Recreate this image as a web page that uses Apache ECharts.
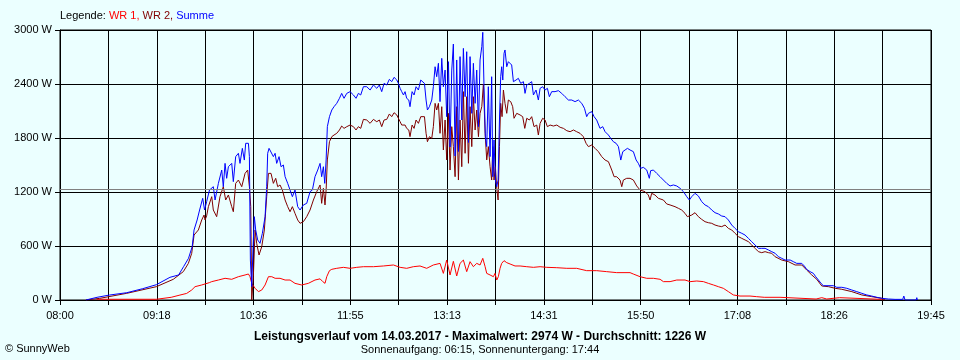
<!DOCTYPE html>
<html><head><meta charset="utf-8">
<script src="https://cdn.jsdelivr.net/npm/echarts@6/dist/echarts.min.js"></script>
<style>html,body{margin:0;padding:0;background:#EBFFFF;}#c{width:960px;height:360px;}</style>
</head><body><div id="c"></div>
<script>
// time values: minutes after 08:00
const xLabels = ['08:00','09:18','10:36','11:55','13:13','14:31','15:50','17:08','18:26','19:45'];
const average = 1226;

const summe = [
[21,0],[30,30],[40,55],[54,81],[67,126],[78,170],[89,252],[96,278],[100,370],[104,463],[107,593],[108.5,778],[111,889],[113,1000],[115.5,1130],[117,1000],[118.7,1093],[121,1222],
[124.1,1259],[125.5,1111],[128.2,1296],[130.9,1444],[132.2,1259],[133.6,1518],[134.9,1352],[136.3,1481],[139,1518],[140.3,1315],[142.2,1593],[144.4,1630],[145.7,1518],[147.6,1685],[149.2,1555],[150.3,1741],[152.5,1741],[153.3,1593],[154.1,444],[155.2,150],[156.3,600],[157.3,926],[158.4,778],[160,667],[161.9,630],[163.8,741],[166,926],[167.3,1259],[168.1,1630],[169.2,1685],[170.8,1667],[172.7,1593],[174.1,1630],[175.4,1518],[177.3,1593],[178.9,1481],[180.8,1500],[182.2,1370],[184.3,1296],[186.2,1222],[188.1,1148],[190.2,1222],[192.4,1037],[194.3,1000],[197,1056],[199.7,1074],[202.4,1204],[204.3,1222],[206.4,1370],[208.6,1444],[210.5,1518],
[211.8,1370],[213.2,1481],[214.3,1296],[215.4,1555],[216.4,1926],[218.1,2037],[220,2111],[221.8,2148],[224,2185],[226.2,2241],[228,2296],[229.9,2241],[232.1,2296],[234.8,2315],[237.5,2278],[239.6,2241],[241.5,2296],[243.4,2278],[245.6,2370],[248.3,2370],[251,2333],[253.7,2389],[256.4,2352],[258.5,2389],[260.4,2315],[262.3,2407],[264.5,2389],[266.6,2452],[268.5,2426],[270.4,2474],[272.6,2444],[273.9,2407],[275.3,2352],[276.6,2315],[278,2278],[279.3,2315],[280.6,2241],[282.3,2222],[283.3,2148],[285,2315],[286.6,2278],[288.2,2370],[290.1,2333],[292,2444],[293.6,2463],[295,2407],[296.3,2222],[297.4,2111],[299,2148],[300.9,2222],[302.2,2370],[303.6,2592],[304.9,2481],[306.3,2630],[307.6,2204],[309,2685],[310.3,2370],[311.7,2555],[313,2037],[314.4,2648],[315.7,1700],[317.1,2555],[318.4,2844],[319.8,1600],[321.1,2667],[322.5,1650],[323.8,2704],[325.2,2000],[326.5,2796],[327.9,2259],[329.2,2759],[330.6,1750],[331.9,2704],[333.3,2074],[334.6,2630],[336,2185],[337.3,2555],[338.7,1926],[340,2667],[341.4,2815],[342.2,2974],[343.2,2370],[344.3,1815],[345.4,1704],[346.7,2370],[348.1,1593],
[349.4,2481],[350.3,1370],[351.3,1778],[352.4,1333],[353.5,1259],[354.6,1333],[355.7,2000],[356.7,2481],[357.5,2592],[358.4,2444],[359.4,2741],[360.2,2778],[361.6,2592],[362.9,2648],[364.3,2630],[365.6,2611],[367,2426],[369.1,2444],[371,2463],[372.9,2407],[375.1,2426],[376.4,2296],[377.8,2389],[379.9,2407],[381.8,2426],[383.2,2278],[385.3,2333],[387.2,2222],[388.6,2352],[390.7,2370],[392.6,2333],[394.5,2352],[396.1,2259],[398,2315],[400.7,2315],[403.4,2326],[406.1,2296],[408.8,2259],[411.5,2222],[414.2,2222],[416.9,2204],[419.6,2222],[422.3,2185],[424.5,2130],[426.3,2037],[427.7,2074],[430.4,2093],[432.3,2037],[434.4,2000],[437.1,1907],[439.3,1926],[441.2,1870],[443.9,1833],[445.8,1796],[447.9,1759],[450.1,1741],[452,1704],[453.9,1555],[455.5,1648],[457.4,1667],[459.3,1685],[461.4,1667],
[464.1,1648],[466.3,1556],[468.1,1519],[470,1463],[472.2,1474],[474.9,1444],[477,1352],[478.1,1437],[480.3,1444],[483,1407],[485.7,1370],[488.4,1333],[491.1,1296],[493.8,1267],[496.5,1278],[499.2,1267],[501.9,1241],[504.6,1204],[507.3,1148],[509.4,1111],[511.3,1148],[514,1185],[516.7,1156],[519.4,1093],[522.1,1056],[524.8,1037],[527.5,1000],[530.2,970],[532.9,956],[535.6,933],[538.3,926],[541,889],[543.7,833],[546.4,796],[549.1,759],[551.8,741],[554.5,722],[557.2,685],[559.9,648],[562.6,611],[565.3,574],[568,574],[570.7,574],[573.4,556],[576.1,537],[578.8,519],
[581.5,481],[584.2,463],[586.9,444],[591,444],[593.6,426],[596.3,407],[600.4,407],[602.5,377],[604.4,340],[607.1,315],[609.8,296],[611.7,259],[613.9,222],[616,185],[617.9,159],[626,159],[628.7,141],[632.8,141],[636.8,130],[640.9,111],[644.9,93],[649,74],[653,56],[657,44],[661.1,30],[665.1,19],[670.5,11],[675.9,7],[682.1,7],[683,44],[684,0],[693,0],[693.5,26],[694,0]
];

const wr2 = [
[21,0],[32,18],[54,74],[78,148],[91.7,230],[99.8,315],[103.9,407],[106.6,518],[108.5,722],[112,778],[114.7,889],[116.6,944],[117.4,889],[118.7,935],[120.1,1037],[122.8,1148],[124.1,1000],[126.8,926],[129.5,1148],[132.2,1259],[134.1,1111],[136.3,1167],[139,1037],[140.3,981],[142.2,1296],[144.4,1333],[147.1,1259],[149.8,1407],[151.9,1444],[153.3,1259],[154.4,1037],[155.2,0],[156.5,259],[157.9,778],[159.2,630],[161.1,500],[163.3,593],[165.4,778],[167.3,1148],[168.7,1407],[170.8,1407],[172.7,1296],[174.6,1352],[176.2,1259],[178.1,1278],[180,1222],[182.2,1111],[184.3,1037],[186.2,981],[188.1,1037],[190.2,963],[192.4,889],[194.3,852],[197,870],[199.7,926],[202.4,1000],[205.1,1111],[207.8,1204],[210.5,1278],
[211.8,1074],[213.2,1241],[214.5,1056],[215.4,1222],[216.4,1556],[218.1,1759],[220,1815],[221.8,1833],[224,1852],[226.2,1889],[228,1933],[229.9,1907],[232.1,1926],[234.8,1944],[237.5,1926],[239.6,1889],[241.5,1926],[243.4,1907],[245.6,2007],[248.3,2000],[251,1963],[253.7,2007],[256.4,1981],[258.5,2000],[260.4,1926],[262.3,2000],[264.5,2007],[266.6,2067],[268.5,2037],[270.4,2081],[272.6,2056],[273.9,2019],[275.3,1981],[276.6,1944],[278,1926],[279.3,1944],[280.6,1907],[282.3,1889],[283.3,1815],[285,1944],[286.6,1907],[288.2,2000],[290.1,1963],[292,2037],[293.6,2056],[295,2037],[296.3,1852],[297.4,1759],[299,1815],[300.9,1796],[302.2,1926],[303.6,2185],[304.9,2111],[306.3,2185],[307.6,1852],[309,2148],[310.3,1667],[311.7,2000],[313,1556],[314.4,2074],[315.7,1444],[317.1,1926],[318.4,1704],[319.8,1370],[321.1,2148],[322.5,1333],[323.8,2000],[325.2,1481],[326.5,2315],[327.9,1630],[329.2,2259],[330.6,1519],[331.9,2148],[333.3,1704],[334.6,2259],[336,1889],[337.3,2111],[338.7,1815],[340,2074],[341.4,2148],[342.7,2400],[344.1,1852],[345.4,1556],[346.7,1704],[348.1,1481],
[349.4,1333],[350.3,1704],[351.3,1333],[352.4,1481],[353.5,1241],[354.6,1111],[355.7,1704],[356.7,2185],[357.8,2037],[358.9,2333],[360.2,2185],[361.6,2074],[362.9,2222],[364.8,2204],[366.4,2148],[367.5,2019],[369.7,2074],[372.4,2056],[374.5,2037],[376.2,1907],[377.8,2019],[379.9,2000],[381.8,2037],[383.7,1926],[385.9,1944],[387.2,1833],[388.6,1963],[390.7,2019],[392.6,2000],[394.5,1926],[396.7,1944],[399.4,1933],[402.1,1944],[404.8,1919],[407.5,1907],[410.2,1881],[412.9,1870],[415.6,1889],[418.2,1870],[420.9,1852],[423.6,1815],[425.8,1741],[427.7,1704],[430.4,1722],[433.1,1685],[435.8,1648],[438.5,1593],[441.2,1555],[443.9,1537],[446.6,1444],[448.5,1370],[450.6,1370],[453.3,1333],[454.7,1259],[456,1333],[458.7,1352],[461.4,1352],
[464.1,1333],[466.8,1267],[469.5,1222],[473.5,1204],[476.2,1167],[477.6,1111],[478.9,1185],[481.6,1167],[484.3,1130],[488.4,1111],[491.1,1067],[493.8,1056],[497.8,1037],[500.5,1019],[503.2,1000],[505.9,963],[507.8,926],[509.4,907],[511.3,944],[514,970],[516.7,926],[519.4,896],[522.1,870],[524.8,859],[527.5,852],[530.2,833],[532.9,822],[535.6,815],[538.3,833],[541,796],[543.7,778],[546.4,741],[549.1,704],[551.8,685],[554.5,667],[557.2,648],[559.9,611],[562.6,574],[565.3,537],[568,526],[570.7,537],[573.4,526],[576.1,519],[578.8,481],
[584.2,444],[589.6,426],[595,389],[600.4,389],[604.4,333],[608.5,278],[612.5,230],[616.6,156],[622,148],[627.4,130],[632.8,119],[640.9,93],[649,56],[657,37],[665.1,19],[667.8,0]
];

const wr1 = [
[29.7,8],[78,8],[78.5,30],[90,30],[90.4,15],[91,30],[97.1,55],[102.5,73],[106.6,111],[109.3,148],[114.7,167],[120.9,193],[122.8,204],[128.2,222],[133.6,241],[139,230],[144.4,259],[149.8,278],[152.5,289],[153.8,259],[155.2,185],[157.9,130],[160.6,93],[163.3,111],[166,167],[168.7,259],[171.4,259],[174.1,241],[178.1,241],[182.2,222],[186.2,222],[190.2,185],[195.6,167],[201,185],[206.4,222],[210.5,235],[212.7,204],[214.5,185],[215.9,259],[218.1,326],[220,341],[224,352],[229.4,363],[234.8,352],[240.2,363],[245.6,370],[253.7,370],[261.8,378],[269.9,389],[275.3,363],[280.6,352],[286,370],[291.4,378],[296.8,352],[302.2,389],[307.6,407],[310.3,296],[313,444],[315.7,278],[318.4,430],[321.1,267],[323.8,407],[326.5,444],[329.2,315],[331.9,426],[334.6,370],[337.3,407],[340,389],[342.2,463],[344.1,370],[345.4,296],[348.1,278],[350.8,259],[352.1,296],[353.5,222],[354.8,259],[356.2,352],[357.5,407],[359.4,437],[361.6,415],[364.3,400],[368.3,378],[372.4,378],[377.8,370],[383.2,363],[388.6,370],[394,363],[402.1,359],[410.2,352],[418.2,352],[426.3,326],[434.4,326],[442.5,315],[450.6,304],[461.4,304],[464,289],[469.5,259],[474.9,241],[480.3,241],[485.7,230],[488.4,204],[493.8,204],[499.2,222],[505.9,222],[510,204],[515.4,211],[520.8,204],[524.8,185],[528.9,167],[532.9,148],[536.9,130],[541,93],[545,56],[550.4,44],[558.5,44],[563.9,37],[570,30],[582.8,30],[583.7,11],[612,11],[612.5,26],[616.6,26],[617,11],[620.6,11],[621,26],[631,26],[631.4,7],[665.1,7],[666,0]
];

const BG = '#EBFFFF';
const FONT = '"Liberation Sans", Arial, sans-serif';
const toSec = arr => arr.map(p => [p[0] * 60, p[1]]);
const chart = echarts.init(document.getElementById('c'), null, {renderer: 'canvas'});
const lineSeries = (name, data, color) => ({
  name, type: 'line', data: toSec(data), showSymbol: false, symbol: 'none',
  lineStyle: {color, width: 1}, itemStyle: {color}, silent: true, animation: false
});
const s3 = lineSeries('Summe', summe, '#0000FF');
s3.markLine = {silent: true, symbol: 'none', label: {show: false},
  lineStyle: {color: '#808080', width: 1, type: 'solid'}, data: [{yAxis: average}]};

chart.setOption({
  backgroundColor: BG,
  animation: false,
  textStyle: {fontFamily: FONT},
  grid: {left: 60, right: 29, top: 30, bottom: 60, show: true, borderColor: '#000', borderWidth: 1, backgroundColor: 'transparent'},
  xAxis: {
    type: 'value', min: 0, max: 42300, interval: 2350,
    axisLine: {show: true, lineStyle: {color: '#000'}},
    axisTick: {show: true, length: 5, lineStyle: {color: '#000'}},
    splitLine: {show: true, lineStyle: {color: '#000', width: 1}},
    axisLabel: {color: '#000', fontSize: 11, fontFamily: FONT, margin: 10, showMinLabel: true, showMaxLabel: true,
      formatter: v => { const k = Math.round(v / 2350); return k % 2 === 0 ? xLabels[k / 2] : ''; }}
  },
  yAxis: {
    type: 'value', min: 0, max: 3000, interval: 600,
    axisLine: {show: true, lineStyle: {color: '#000'}},
    axisTick: {show: true, length: 5, lineStyle: {color: '#000'}},
    splitLine: {show: true, lineStyle: {color: '#000', width: 1}},
    axisLabel: {color: '#000', fontSize: 11, fontFamily: FONT, margin: 8, formatter: v => String(v) + ' W'}
  },
  series: [lineSeries('WR 1', wr1, '#FF0000'), lineSeries('WR 2', wr2, '#800000'), s3],
  graphic: [
    {type: 'text', x: 60, y: 16, silent: true, style: {
      text: '{k|Legende: }{a|WR 1, }{b|WR 2, }{c|Summe}', verticalAlign: 'middle', textVerticalAlign: 'middle',
      fontSize: 11, fontFamily: FONT,
      rich: {k: {fill: '#000', color: '#000', fontSize: 11, fontFamily: FONT}, a: {fill: '#FF0000', color: '#FF0000', fontSize: 11, fontFamily: FONT},
             b: {fill: '#800000', color: '#800000', fontSize: 11, fontFamily: FONT}, c: {fill: '#0000FF', color: '#0000FF', fontSize: 11, fontFamily: FONT}}}},
    {type: 'text', x: 480, y: 337, silent: true, style: {
      text: 'Leistungsverlauf vom 14.03.2017 - Maximalwert: 2974 W - Durchschnitt: 1226 W',
      align: 'center', textAlign: 'center', verticalAlign: 'middle', textVerticalAlign: 'middle',
      fontSize: 12, fontWeight: 'bold', fontFamily: FONT, fill: '#000'}},
    {type: 'text', x: 480, y: 350, silent: true, style: {
      text: 'Sonnenaufgang: 06:15, Sonnenuntergang: 17:44',
      align: 'center', textAlign: 'center', verticalAlign: 'middle', textVerticalAlign: 'middle',
      fontSize: 11, fontFamily: FONT, fill: '#000'}},
    {type: 'text', x: 5, y: 349, silent: true, style: {
      text: '© SunnyWeb', verticalAlign: 'middle', textVerticalAlign: 'middle',
      fontSize: 11, fontFamily: FONT, fill: '#000'}}
  ]
});
</script></body></html>
